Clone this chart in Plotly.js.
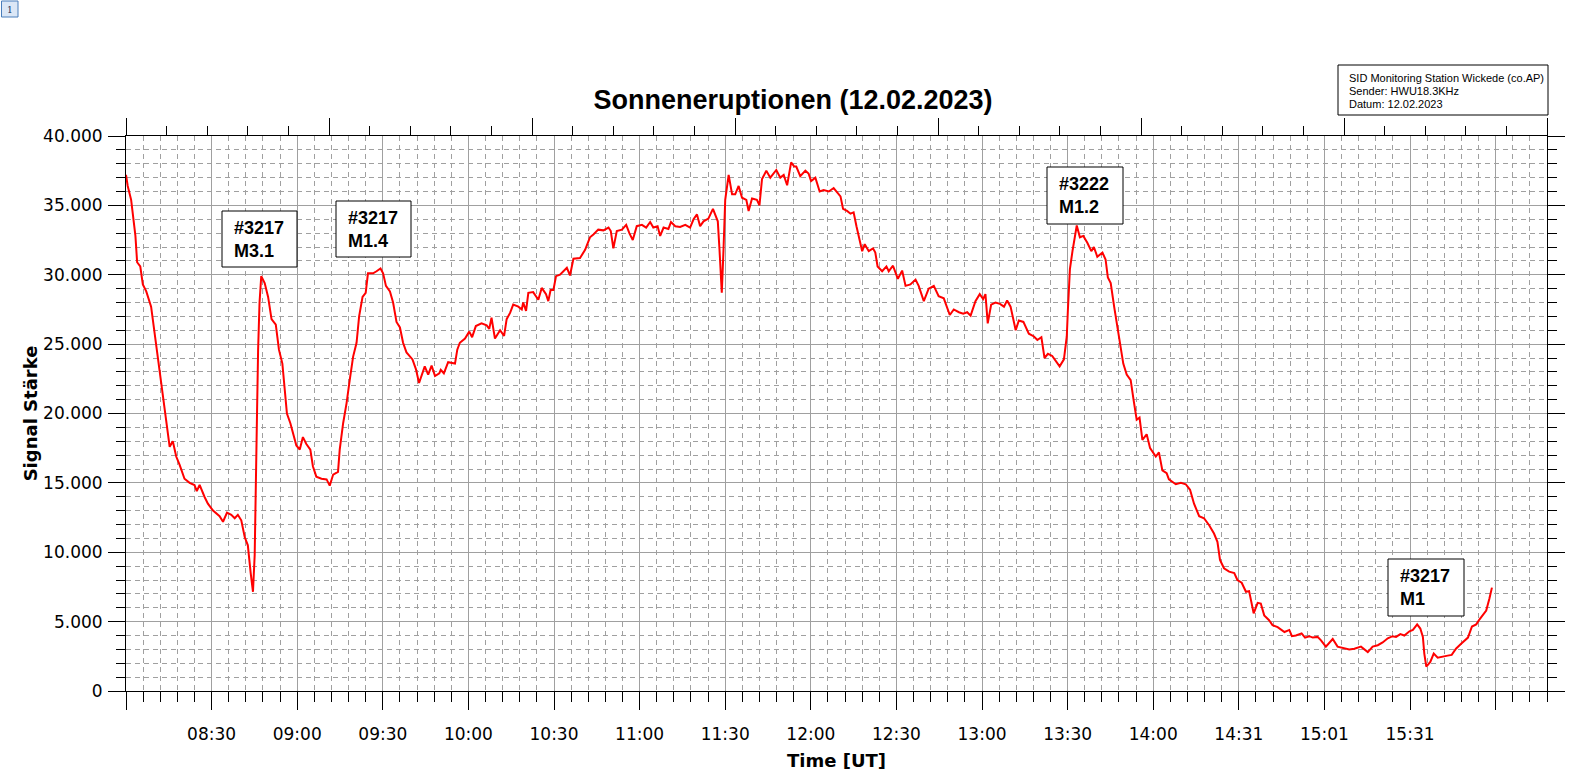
<!DOCTYPE html>
<html>
<head>
<meta charset="utf-8">
<script src="https://cdn.plot.ly/plotly-3.0.1.min.js"></script>
<style>
  html, body { margin: 0; padding: 0; background: #ffffff; }
  #chart { width: 1581px; height: 776px; }
</style>
</head>
<body>
<div id="chart"></div>
<script>
// ---- DATA (minutes after 08:00 UT, signal strength) ----
const minutes = [
  0, 0.6, 1.8, 2.6, 3.3, 3.9, 5.0, 5.9, 7.1, 8.8, 10.0, 11.2, 12.4, 13.5, 14.7, 15.3, 16.4, 17.6, 18.8, 20.5,
  22.3, 24.0, 24.8, 25.8, 27.5, 28.7, 30.5, 32.8, 34.0, 35.4, 36.9, 38.1, 39.2, 40.4, 41.6, 42.7, 43.7, 44.5, 45.1, 45.4,
  45.9, 46.3, 46.8, 47.4, 48.6, 49.8, 51.0, 52.5, 53.6, 54.8, 55.6, 56.4, 57.6, 58.8, 59.7, 60.9, 62.0, 63.2, 64.6, 65.5,
  66.7, 68.5, 70.3, 71.4, 72.6, 74.3, 74.9, 76.1, 77.3, 78.4, 79.6, 80.8, 81.7, 82.9, 84.0, 84.8, 86.6, 87.8, 89.2, 90.1,
  91.1, 92.5, 93.6, 94.8, 96.0, 97.1, 98.3, 100.4, 101.6, 102.7, 103.6, 104.7, 105.9, 107.1, 108.3, 109.8, 110.3, 111.4, 112.9, 115.3,
  116.1, 117.0, 118.8, 120.3, 121.3, 122.6, 124.6, 126.4, 127.3, 128.1, 129.3, 131.1, 132.5, 133.4, 134.6, 135.7, 137.5, 138.7, 139.2, 140.2,
  141.0, 142.7, 144.5, 145.7, 147.2, 148.0, 148.8, 149.8, 150.7, 152.1, 154.5, 155.6, 156.8, 159.1, 160.9, 162.6, 163.8, 165.5, 167.3, 169.1,
  169.9, 170.8, 172.0, 173.8, 175.3, 176.4, 177.6, 179.0, 180.8, 182.3, 183.7, 184.8, 186.3, 187.2, 188.4, 190.1, 191.0, 192.5, 194.2, 196.0,
  197.7, 198.9, 200.1, 201.2, 202.4, 204.1, 205.7, 206.5, 207.4, 208.0, 208.5, 208.8, 209.4, 210.0, 211.2, 212.4, 213.5, 214.7, 215.9, 217.4,
  218.2, 219.4, 221.1, 222.0, 222.9, 224.4, 225.8, 227.9, 229.3, 230.5, 231.7, 233.1, 234.2, 234.9, 236.3, 238.1, 239.2, 240.1, 241.6, 243.1,
  244.5, 246.3, 248.0, 249.4, 250.4, 251.3, 252.7, 253.9, 255.0, 256.0, 257.1, 258.0, 258.9, 260.3, 261.8, 262.6, 263.4, 265.0, 266.5, 267.3,
  268.8, 270.5, 272.0, 273.2, 274.9, 276.7, 277.8, 279.6, 281.3, 283.1, 284.8, 286.6, 288.7, 290.1, 291.9, 293.4, 294.8, 296.0, 297.7, 299.2,
  300.4, 301.2, 302.0, 303.2, 304.7, 306.3, 307.7, 308.8, 310.0, 311.8, 312.9, 314.5, 316.4, 318.2, 319.4, 320.8, 321.9, 323.1, 324.6, 325.8,
  327.2, 328.7, 329.7, 330.1, 330.5, 330.8, 331.7, 332.5, 333.2, 334.3, 335.5, 336.9, 338.3, 339.2, 340.4, 342.2, 343.3, 344.1, 345.1, 346.3,
  347.4, 348.6, 349.5, 350.7, 352.1, 353.1, 354.2, 355.2, 356.2, 357.7, 358.9, 360.9, 362.0, 363.2, 364.7, 365.5, 367.9, 369.7, 371.4, 372.9,
  374.3, 376.1, 377.8, 379.6, 381.3, 382.5, 383.4, 384.8, 386.6, 388.4, 389.5, 391.0, 392.5, 393.6, 395.2, 396.6, 397.7, 398.9, 400.6, 401.8,
  403.6, 406.0, 407.7, 408.6, 410.0, 412.0, 413.2, 414.7, 415.9, 417.6, 418.8, 420.5, 422.9, 424.6, 427.0, 428.7, 430.5, 432.8, 435.2, 436.9,
  438.7, 440.4, 442.2, 443.9, 445.1, 446.6, 448.0, 449.8, 451.0, 452.5, 453.6, 454.5, 455.0, 455.7, 457.1, 458.3, 459.7, 461.5, 463.2, 464.6,
  466.1, 467.9, 470.3, 471.7, 473.2, 474.3, 475.2, 476.7, 477.8, 478.7
];
const signal = [
  37200, 36400, 35400, 34200, 32800, 30900, 30600, 29300, 28800, 27700, 25800, 23900, 22200, 20300, 18300, 17600, 18000, 16900, 16300, 15300,
  15000, 14850, 14400, 14850, 14000, 13500, 13000, 12600, 12200, 12850, 12700, 12450, 12700, 12300, 11100, 10500, 8500, 7150, 9800, 15000,
  19800, 24600, 28000, 29900, 29400, 28400, 26800, 26400, 24600, 23600, 21700, 20000, 19300, 18300, 17700, 17400, 18300, 17800, 17400, 16200,
  15450, 15300, 15250, 14800, 15600, 15800, 17400, 19300, 20750, 22400, 24100, 25100, 27000, 28400, 28700, 30100, 30100, 30250, 30450, 30100,
  29200, 28800, 28000, 26600, 26200, 25100, 24400, 23900, 23200, 22200, 22700, 23400, 22800, 23450, 22700, 22900, 23150, 22900, 23700, 23600,
  24600, 25100, 25400, 25900, 25500, 26300, 26500, 26350, 26100, 26900, 25400, 26000, 25600, 26800, 27250, 27850, 27700, 27500, 28000, 27400,
  28700, 28750, 28200, 29050, 28600, 28100, 28900, 28900, 29900, 30000, 30500, 29950, 31150, 31200, 31800, 32700, 32900, 33250, 33200, 33400,
  33150, 31900, 33150, 33250, 33600, 33000, 32500, 33500, 33600, 33400, 33800, 33400, 33500, 32800, 33400, 33300, 33800, 33500, 33450, 33600,
  33400, 34000, 34350, 33500, 33850, 34050, 34750, 34350, 33850, 31800, 29400, 28700, 31800, 35400, 37200, 35800, 35800, 36400, 35550, 35400,
  34600, 35500, 35400, 35000, 36900, 37500, 37000, 37550, 37000, 37200, 36450, 38100, 37800, 37800, 37100, 37500, 37300, 36750, 37000, 36000,
  36100, 36000, 36250, 35900, 35650, 34750, 34600, 34400, 34500, 33500, 32500, 31700, 32200, 31700, 31900, 31600, 30600, 30250, 30600, 30250,
  30650, 29700, 30300, 29200, 29300, 29650, 29200, 28100, 29000, 29200, 28450, 28300, 27100, 27500, 27300, 27200, 27300, 27050, 28100, 28600,
  28250, 28600, 26500, 27850, 28000, 27900, 27700, 28150, 27700, 26000, 26700, 26600, 25750, 25550, 25300, 25500, 24000, 24300, 24150, 23800,
  23400, 23900, 25550, 27500, 29400, 30400, 31700, 32700, 33550, 32700, 32800, 32300, 31700, 32000, 31300, 31600, 31100, 29800, 29400, 27700,
  26300, 24800, 23600, 22800, 22400, 21000, 19550, 19700, 18100, 18500, 17500, 16900, 17200, 15900, 15700, 15250, 14900, 15000, 14900, 14500,
  13500, 12600, 12450, 11950, 11350, 10750, 9450, 8850, 8600, 8500, 8000, 7800, 7150, 7200, 5600, 6350, 6300, 5450, 5100, 4750,
  4600, 4250, 4400, 3950, 4000, 4150, 3850, 3950, 3850, 3900, 3650, 3200, 3750, 3200, 3100, 3000, 3050, 3200, 2800, 3200,
  3300, 3500, 3800, 3950, 3900, 4100, 4000, 4300, 4400, 4800, 4500, 3900, 2700, 1750, 2100, 2700, 2400, 2450, 2550, 2600,
  3050, 3400, 3850, 4650, 4800, 5150, 5400, 5800, 6650, 7450
];
const timeTickLabels = ['', '08:30', '09:00', '09:30', '10:00', '10:30', '11:00', '11:30', '12:00',
  '12:30', '13:00', '13:30', '14:00', '14:31', '15:01', '15:31', ''];
const flareLabels = [
  ['#3217', 'M3.1'],
  ['#3217', 'M1.4'],
  ['#3222', 'M1.2'],
  ['#3217', 'M1']
];
const infoLines = ['SID Monitoring Station Wickede (co.AP)', 'Sender: HWU18.3KHz', 'Datum: 12.02.2023'];
const chartTitle = 'Sonneneruptionen (12.02.2023)';

// ---- LAYOUT HELPERS ----
const W = 1581, H = 776;
const L = 126, R = 1547, T = 136, B = 691;
const px = x => (x - L) / (R - L);
const py = y => (B - y) / (B - T);

const boxPos = [
  { left: 222, top: 211, w: 75, h: 56 },
  { left: 336, top: 201, w: 75, h: 56 },
  { left: 1047, top: 167, w: 76, h: 57 },
  { left: 1388, top: 559, w: 76, h: 57 }
];

const shapes = [];
const annotations = [];
flareLabels.forEach((lines, i) => {
  const b = boxPos[i];
  shapes.push({
    type: 'rect', xref: 'paper', yref: 'paper', layer: 'above',
    x0: px(b.left), x1: px(b.left + b.w), y0: py(b.top + b.h), y1: py(b.top),
    line: { color: '#000000', width: 1 }, fillcolor: '#ffffff'
  });
  lines.forEach((txt, j) => {
    annotations.push({
      xref: 'paper', yref: 'paper', x: px(b.left + 10), y: py(b.top + 17 + j * 23),
      xanchor: 'left', yanchor: 'middle', showarrow: false, text: txt,
      font: { family: 'Liberation Sans, Arial, sans-serif', size: 18, color: '#000000', weight: 'bold' }
    });
  });
});

// info box
shapes.push({
  type: 'rect', xref: 'paper', yref: 'paper', layer: 'above',
  x0: px(1338), x1: px(1548), y0: py(115), y1: py(65),
  line: { color: '#000000', width: 1 }, fillcolor: '#ffffff'
});
infoLines.forEach((txt, j) => {
  annotations.push({
    xref: 'paper', yref: 'paper', x: px(1347), y: py(78 + j * 13),
    xanchor: 'left', yanchor: 'middle', showarrow: false, text: txt,
    font: { family: 'Liberation Sans, Arial, sans-serif', size: 11, color: '#000000' }
  });
});

// small page marker at top-left
shapes.push({
  type: 'rect', xref: 'paper', yref: 'paper', layer: 'above',
  x0: px(1.5), x1: px(18), y0: py(17), y1: py(1),
  line: { color: '#4a7ebb', width: 1 }, fillcolor: '#dbe7f6'
});
annotations.push({
  xref: 'paper', yref: 'paper', x: px(9.8), y: py(9.5),
  xanchor: 'center', yanchor: 'middle', showarrow: false, text: '1',
  font: { family: 'DejaVu Serif, serif', size: 9, color: '#1b3558' }
});

const gridGray = '#a0a0a0';
const tickFont = { family: 'DejaVu Sans, Verdana, sans-serif', size: 17, color: '#000000' };
const titleFont = { family: 'DejaVu Sans, Verdana, sans-serif', size: 18, color: '#000000', weight: 'bold' };

const traces = [
  {
    x: minutes, y: signal, type: 'scatter', mode: 'lines',
    line: { color: '#ff0000', width: 2 }, hoverinfo: 'skip', showlegend: false
  },
  {
    x: [], y: [], type: 'scatter', mode: 'lines', xaxis: 'x2', yaxis: 'y2',
    hoverinfo: 'skip', showlegend: false
  }
];

const layout = {
  width: W, height: H,
  margin: { l: L, r: W - R, t: T, b: H - B, pad: 0 },
  paper_bgcolor: '#ffffff', plot_bgcolor: '#ffffff',
  separators: ',.',
  showlegend: false,
  title: {
    text: chartTitle, xref: 'container', yref: 'container',
    x: 793 / W, y: 1 - 100 / H, xanchor: 'center', yanchor: 'middle',
    font: { family: 'Liberation Sans, Arial, sans-serif', size: 27, color: '#000000', weight: 'bold' }
  },
  xaxis: {
    range: [0, 498], tickmode: 'array',
    tickvals: timeTickLabels.map((_, i) => i * 30), ticktext: timeTickLabels,
    ticks: 'outside', ticklen: 18, tickwidth: 1, tickcolor: '#000000',
    tickfont: tickFont, ticklabelstandoff: 10,
    showline: true, linecolor: '#000000', linewidth: 1, mirror: false,
    showgrid: true, gridcolor: gridGray, gridwidth: 1, zeroline: false,
    minor: { tick0: 0, dtick: 6, ticks: 'outside', ticklen: 10, tickwidth: 1, tickcolor: '#000000',
      showgrid: true, gridcolor: gridGray, gridwidth: 1, griddash: '5px,4px' },
    title: { text: 'Time [UT]', font: titleFont, standoff: 10 },
    fixedrange: true
  },
  yaxis: {
    range: [0, 40000], tick0: 0, dtick: 5000, tickformat: ',d',
    ticks: 'outside', ticklen: 17, tickwidth: 1, tickcolor: '#000000',
    tickfont: tickFont, ticklabelstandoff: 2,
    showline: true, linecolor: '#000000', linewidth: 1,
    showgrid: true, gridcolor: gridGray, gridwidth: 1, zeroline: false,
    minor: { tick0: 0, dtick: 1000, ticks: 'outside', ticklen: 9, tickwidth: 1, tickcolor: '#000000',
      showgrid: true, gridcolor: gridGray, gridwidth: 1, griddash: '5px,4px' },
    title: { text: 'Signal Stärke', font: titleFont, standoff: 0 },
    fixedrange: true
  },
  xaxis2: {
    overlaying: 'x', side: 'top', anchor: 'y', range: [0, 35], tick0: 0, dtick: 5,
    ticks: 'outside', ticklen: 17, tickwidth: 1, tickcolor: '#000000',
    showticklabels: false, showgrid: false, zeroline: false,
    showline: true, linecolor: '#000000', linewidth: 1,
    minor: { tick0: 0, dtick: 1, ticks: 'outside', ticklen: 9, tickwidth: 1, tickcolor: '#000000', showgrid: false },
    fixedrange: true
  },
  yaxis2: {
    overlaying: 'y', side: 'right', anchor: 'x', range: [0, 40000], tick0: 0, dtick: 5000,
    ticks: 'outside', ticklen: 17, tickwidth: 1, tickcolor: '#000000',
    showticklabels: false, showgrid: false, zeroline: false,
    showline: true, linecolor: '#000000', linewidth: 1,
    minor: { tick0: 0, dtick: 1000, ticks: 'outside', ticklen: 9, tickwidth: 1, tickcolor: '#000000', showgrid: false },
    fixedrange: true
  },
  shapes: shapes,
  annotations: annotations
};

Plotly.newPlot('chart', traces, layout, { displayModeBar: false, staticPlot: true });
</script>
</body>
</html>
